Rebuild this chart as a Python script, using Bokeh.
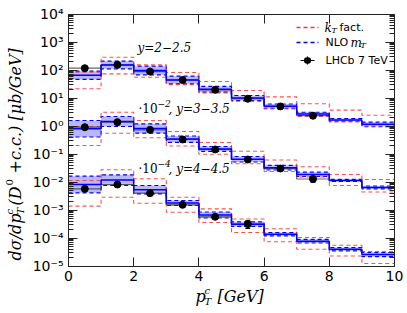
import math
from bokeh.plotting import figure
from bokeh.models import (LinearAxis, LogAxis, FixedTicker, CustomJSTickFormatter,
                          Label, Arrow, ColumnDataSource, Range1d, Whisker, TeeHead)
from bokeh.embed import file_html
from bokeh.resources import INLINE

# ---------------- data ----------------
pt_edges = [0, 1, 2, 3, 4, 5, 6, 7, 8, 9, 10]
pt_centers = [0.5, 1.5, 2.5, 3.5, 4.5, 5.5, 6.5, 7.5, 8.5, 9.5]
x_ticks = [0, 2, 4, 6, 8, 10]

# rapidity bin labels and display scale factors
bin_labels = ["y=2\u22122.5", "y=3\u22123.5", "y=4\u22124.5"]
scale_exps = [0, -2, -4]

# y = 2-2.5  (ub/GeV)
lhcb_y1 = [116, 153, 88, 44, 19.6, 9.4, 5.0, 2.33]
lhcb_y1_err = [12, 15, 9, 4.4, 2.0, 1.0, 0.6, 0.35]
nlo_y1_hi = [91, 206, 137, 60, 25.8, 12.3, 6.1, 3.1, 1.85, 1.37]
nlo_y1_lo = [46, 110, 67, 32, 16.1, 8.1, 4.3, 2.37, 1.48, 0.98]
nlo_y1_c = [65, 150, 96, 44, 20.4, 10.0, 5.1, 2.7, 1.65, 1.16]
kt_y1_hi = [83, 286, 153, 81, 38.8, 18.5, 11.0, 6.2, 3.7, 2.43]
kt_y1_lo = [21.3, 73, 55, 30, 15.3, 7.7, 4.05, 2.18, 1.39, 0.92]

# y = 3-3.5
lhcb_y2 = [90.6, 137, 73, 33, 14.5, 6.37, 3.03, 1.28]
lhcb_y2_err = [10, 14, 7, 3.3, 1.5, 0.7, 0.4, 0.3]
nlo_y2_hi = [157, 218, 120, 44, 18.5, 8.15, 3.95, 2.24, 1.25, 0.72]
nlo_y2_lo = [40.5, 96, 55.3, 25.8, 12.5, 5.18, 2.68, 1.57, 1.04, 0.57]
nlo_y2_c = [80, 145, 81, 34, 15.2, 6.5, 3.25, 1.87, 1.14, 0.64]
kt_y2_hi = [96, 311, 157, 63.7, 25.8, 12.5, 6.1, 3.49, 1.85, 1.23]
kt_y2_lo = [20.1, 55.3, 37.9, 19.3, 9.75, 4.47, 2.37, 1.51, 0.75, 0.44]

# y = 4-4.5
lhcb_y3 = [57.1, 81.5, 39.8, 15.3, 5.71, 3.16]
lhcb_y3_err = [6, 8, 4, 1.6, 0.7, 0.95]
nlo_y3_hi = [161, 181, 75, 21.8, 8.49, 3.79, 1.57, 0.90, 0.458, 0.303]
nlo_y3_lo = [41.1, 75, 37.9, 14.5, 5.18, 2.58, 1.20, 0.663, 0.349, 0.215]
nlo_y3_c = [81, 117, 53, 17.8, 6.6, 3.1, 1.37, 0.77, 0.40, 0.255]
kt_y3_hi = [113, 273, 130, 28.6, 11.0, 4.77, 2.13, 1.04, 0.553, 0.33]
kt_y3_lo = [13.7, 28.6, 17.5, 8.34, 3.58, 1.57, 0.731, 0.395, 0.228, 0.123]

series = [
    (lhcb_y1, lhcb_y1_err, nlo_y1_hi, nlo_y1_lo, nlo_y1_c, kt_y1_hi, kt_y1_lo),
    (lhcb_y2, lhcb_y2_err, nlo_y2_hi, nlo_y2_lo, nlo_y2_c, kt_y2_hi, kt_y2_lo),
    (lhcb_y3, lhcb_y3_err, nlo_y3_hi, nlo_y3_lo, nlo_y3_c, kt_y3_hi, kt_y3_lo),
]

# ---------------- layout (frame covers the canvas; axes are placed inside) ----------------
W, H = 407, 313
X0, X1 = 0.0, 10.0          # data x extent
LY0, LY1 = -5.0, 4.0        # data log10(y) extent
PX_L, PX_R = 68.0, 394.0    # pixel position of the box
PX_T, PX_B = 13.5, 265.5
sx = (PX_R - PX_L) / (X1 - X0)
sy = (PX_B - PX_T) / (LY1 - LY0)
xr = Range1d(X0 - PX_L / sx, X1 + (W - PX_R) / sx)
yr = Range1d(10 ** (LY0 - (H - PX_B) / sy), 10 ** (LY1 + PX_T / sy))

p = figure(width=W, height=H, x_range=xr, y_range=yr, y_axis_type="log",
           output_backend="svg", toolbar_location=None, min_border=0,
           background_fill_color="white", border_fill_color="white")
p.grid.visible = False
p.outline_line_color = None

RED = "#ff3030"
BLUE = "#0000ff"


def step_xy(vals, f):
    xs = pt_edges[:len(vals) + 1]
    ys = [v * f for v in vals] + [vals[-1] * f]
    return xs, ys


for (data, err, nhi, nlo, nc, khi, klo), e in zip(series, scale_exps):
    f = 10.0 ** e
    n = len(nhi)
    p.quad(left=pt_edges[:n], right=pt_edges[1:n + 1],
           bottom=[v * f for v in nlo], top=[v * f for v in nhi],
           fill_color="#2020ee", fill_alpha=0.32, line_color=None)
    for arr in (nhi, nlo):
        xs, ys = step_xy(arr, f)
        p.step(xs, ys, mode="after", line_color=BLUE, line_dash="4 3", line_width=1.2)
    for arr in (khi, klo):
        xs, ys = step_xy(arr, f)
        p.step(xs, ys, mode="after", line_color=RED, line_dash="4 3", line_width=1.1, line_alpha=0.85)
    xs, ys = step_xy(data, f)
    p.step(xs, ys, mode="after", line_color="#333333", line_width=1.2, line_alpha=0.75)
    xs, ys = step_xy(nc, f)
    p.step(xs, ys, mode="after", line_color=BLUE, line_width=1.5)
    m = len(data)
    src = ColumnDataSource(dict(x=pt_centers[:m], y=[v * f for v in data],
                                lo=[(v - s) * f for v, s in zip(data, err)],
                                hi=[(v + s) * f for v, s in zip(data, err)]))
    p.add_layout(Whisker(source=src, base="x", lower="lo", upper="hi", dimension="height",
                         line_color="black", line_width=1.2,
                         lower_head=TeeHead(size=5, line_color="black", line_width=1.2),
                         upper_head=TeeHead(size=5, line_color="black", line_width=1.2)))
    p.scatter("x", "y", source=src, size=7, color="black")

# ---------------- axes ----------------
ymaj = [10.0 ** k for k in range(-5, 5)]
ymin = [mm * 10.0 ** k for k in range(-5, 4) for mm in range(2, 10)]
yticker = FixedTicker(ticks=ymaj, minor_ticks=ymin)
xticker = FixedTicker(ticks=x_ticks)

fmt = CustomJSTickFormatter(code="""
const e = Math.round(Math.log10(tick));
const m = {"-":"\\u207B","0":"\\u2070","1":"\\u00B9","2":"\\u00B2","3":"\\u00B3","4":"\\u2074",
           "5":"\\u2075","6":"\\u2076","7":"\\u2077","8":"\\u2078","9":"\\u2079"};
let s = "";
for (const c of String(e)) s += m[c];
return "10" + s;
""")
blank_fmt = CustomJSTickFormatter(code="return '';")


def style_axis(ax, labels=True, minor=True):
    ax.axis_line_color = "#222222"
    ax.major_tick_line_color = "#222222"
    ax.major_tick_in = 9
    ax.major_tick_out = 0
    if minor:
        ax.minor_tick_line_color = "#222222"
        ax.minor_tick_in = 5
        ax.minor_tick_out = 0
    else:
        ax.minor_tick_line_color = None
    if labels:
        ax.major_label_text_font = "DejaVu Sans"
        ax.major_label_text_font_size = "14px"
        ax.major_label_text_color = "black"
        ax.major_label_standoff = 5
    else:
        ax.formatter = blank_fmt
        ax.major_label_text_font_size = "2px"
        ax.major_label_standoff = 0


ybounds = (10.0 ** LY0, 10.0 ** LY1)
p.yaxis.ticker = yticker
p.yaxis.formatter = fmt
p.yaxis.fixed_location = X0
p.yaxis.bounds = ybounds
style_axis(p.yaxis[0])
p.xaxis.ticker = xticker
p.xaxis.fixed_location = ybounds[0]
p.xaxis.bounds = (X0, X1)
style_axis(p.xaxis[0], minor=False)

rax = LogAxis(ticker=yticker, fixed_location=X1, bounds=ybounds)
style_axis(rax, labels=False)
p.add_layout(rax, "right")
tax = LinearAxis(ticker=xticker, fixed_location=ybounds[1], bounds=(X0, X1))
style_axis(tax, labels=False, minor=False)
p.add_layout(tax, "above")


# ---------------- texts ----------------
def lab(text, x, y, size, font="DejaVu Serif", style="italic", angle=0.0, align="left"):
    p.add_layout(Label(x=x, y=y, x_units="canvas", y_units="canvas", text=text,
                       text_font=font, text_font_size=f"{size}px", text_font_style=style,
                       angle=angle, text_align=align, text_baseline="middle",
                       text_color="black"))


A = math.pi / 2
# y axis label: d sigma / dp_T^c (D^0 +c.c.) [mu b/GeV]
lab("d\u03c3/dp", 15, 260, 16, angle=A)
lab("T", 20, 214, 10, angle=A)
lab("c", 9, 214, 10, angle=A)
lab("(D", 15, 205, 16, angle=A)
lab("0", 9, 185, 10, style="normal", angle=A)
lab("+c.c.)", 15, 173, 16, angle=A)
lab("[\u03bcb/GeV]", 15, 120, 16, angle=A)

# x axis label: p_T^c [GeV]
lab("p", 195, 296, 16)
lab("c", 204, 290, 10)
lab("T", 204, 301, 10)
lab("[GeV]", 217, 296, 16)

# rapidity annotations
lab(bin_labels[0], 137, 47, 12)
for lbl, e, yy in ((bin_labels[1], scale_exps[1], 108), (bin_labels[2], scale_exps[2], 168)):
    lab("\u00b710", 138, yy, 12, style="normal")
    lab(("\u2212" + str(-e)), 157, yy - 5, 9)
    lab(", " + lbl, 168, yy, 12)

# legend
p.add_layout(Arrow(x_start=296, y_start=27, x_end=318, y_end=27, start_units="canvas",
                   end_units="canvas", end=None, line_color=RED, line_dash="4 3", line_width=1.3))
p.add_layout(Arrow(x_start=296, y_start=42, x_end=318, y_end=42, start_units="canvas",
                   end_units="canvas", end=None, line_color=BLUE, line_dash="4 3", line_width=1.3))
p.add_layout(Arrow(x_start=300, y_start=60, x_end=314, y_end=60, start_units="canvas",
                   end_units="canvas", end=None, line_color="black", line_width=1.2))
p.add_layout(Arrow(x_start=307, y_start=56, x_end=307, y_end=64, start_units="canvas",
                   end_units="canvas", end=None, line_color="black", line_width=1.2))
p.add_layout(Arrow(x_start=306.7, y_start=60, x_end=307.3, y_end=60, start_units="canvas",
                   end_units="canvas", end=None, line_color="black", line_width=6.5,
                   line_cap="round"))
lab("k", 324, 27, 12)
lab("T", 331, 30, 8)
lab("fact.", 339, 27, 11, font="DejaVu Sans", style="normal")
lab("NLO", 325, 42, 11, font="DejaVu Sans", style="normal")
lab("m", 350, 42, 12)
lab("T", 360, 45, 8)
lab("LHCb 7 TeV", 325, 60, 11, font="DejaVu Sans", style="normal")

open("out.html", "w").write(file_html(p, INLINE))
